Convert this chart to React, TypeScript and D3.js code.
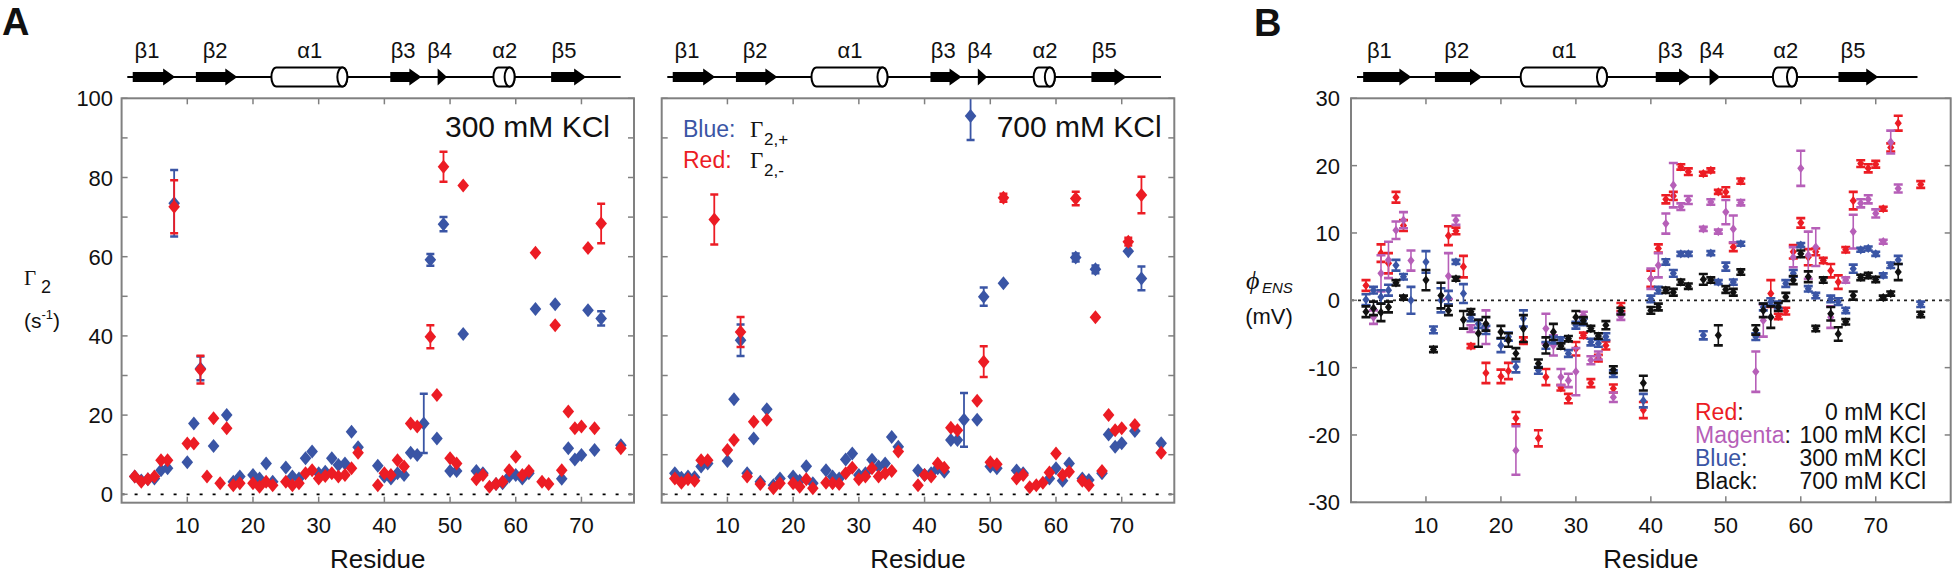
import React from 'react';
import * as d3 from 'd3';

type Pt = [number, number, number?];

// ---------- Panel A data: Gamma2 (s^-1) per residue [residue, value, error] ----------
const blue300: Pt[] = [
  [2,4.5],[3,3.5],[4,3.8],[5,4],[6,6.1],[7,6.6],[8,73.5,8.4],[10,8.1],[11,17.9],[12,31.8,3],
  [14,12.2],[16,20],[17,3.2],[18,4.5],[20,4.9],[21,4],[22,7.8],[23,3.2],[25,6.8],[26,4.5],
  [27,4],[28,9.1],[29,10.8],[30,5.3],[31,5.7],[32,9.1],[33,7.4],[34,7.8],[35,15.8],[36,11.9],
  [39,7.2],[40,4.5],[41,4],[42,5.3],[43,4.9],[44,10.5],[45,9.9],[46,17.9,7.5],[47,59.2,1.5],
  [48,14.1],[49,68.2,1.8],[50,5.9],[51,5.9],[52,40.5],[54,5.9],[55,5.3],[57,2.6],[58,2.8],
  [59,4.5],[60,4.9],[61,4],[62,5.3],[63,46.8],[66,48],[67,3.9],[68,11.6],[69,8.8],[70,9.9],
  [71,46.5],[72,11.2],[73,44.4,1.8],[76,12.4]
];
const red300: Pt[] = [
  [2,4.5],[3,3.2],[4,3.8],[5,4.5],[6,8.6],[7,8.6],[8,72.6,6.7],[10,12.8],[11,12.8],[12,31.5,3.5],
  [13,4.5],[14,19.2],[15,2.8],[16,16.7],[17,2.3],[18,2.8],[20,2.8],[21,1.9],[22,3.2],[23,2.3],
  [25,3.2],[26,2.3],[27,2.8],[28,5.3],[29,6.1],[30,4],[31,4.6],[32,5.3],[33,4.5],[34,4.9],
  [35,6.6],[36,10.5],[39,2.3],[40,5.3],[41,4.9],[42,8.6],[43,7],[44,17.9],[45,17.1],[47,39.8,2.9],
  [48,25.1],[49,82.7,3.8],[50,9.1],[51,7.8],[52,78],[54,3.8],[55,4.9],[56,1.9],[57,2.6],[58,3.2],
  [59,6.1],[60,9.5],[61,4.9],[62,5.9],[63,61],[64,3.2],[65,2.6],[66,42.7],[67,6.1],[68,20.9],
  [69,16.7],[70,17.1],[71,62.2],[72,16.7],[73,68.4,5],[76,11.6]
];
const blue700: Pt[] = [
  [2,5.3],[3,4.2],[4,4.5],[5,4.3],[6,7],[7,7.8],[10,8.4],[11,24],[12,38.9,4],[13,5.3],
  [14,14.1],[15,3.2],[16,21.5],[17,2.3],[18,4],[20,4.5],[21,3.4],[22,7.1],[23,2.8],[25,6.1],
  [26,4.5],[27,4],[28,8.8],[29,10.3],[30,4.9],[31,5.3],[32,8.7],[33,7],[34,7.8],[35,14.5],
  [36,12],[39,6],[40,4.9],[41,5.3],[42,6.6],[43,5.7],[44,13.7],[45,13.7],[46,18.8,6.8],
  [47,95.5,6],[48,18.8],[49,49.9,2.3],[50,7],[51,6.6],[52,53.3],[54,6],[55,5.3],[59,4],
  [60,6.6],[61,3.4],[62,7.8],[63,59.8,1],[64,4],[65,3.6],[66,56.8,1],[67,5.3],[68,15.1],
  [69,12],[70,12.9],[71,61.4],[72,16],[73,54.5,3],[76,12.9]
];
const red700: Pt[] = [
  [2,4],[3,2.9],[4,3.8],[5,3.4],[6,8.6],[7,8.6],[8,69.4,6.3],[10,11.2],[11,13.7],[12,41,3.8],
  [13,4.5],[14,18.3],[15,2.6],[16,18.8],[17,1.5],[18,2.8],[20,2.8],[21,1.9],[22,3.8],[23,1.5],
  [25,2.9],[26,2.8],[27,2.6],[28,5.3],[29,6.7],[30,3.8],[31,4.5],[32,6.6],[33,4.5],[34,5.3],
  [35,5.9],[36,10.8],[39,2.3],[40,4.9],[41,4.5],[42,7.8],[43,6.7],[44,16.8],[45,16.2],[48,23.6],
  [49,33.5,3.9],[50,8.1],[51,7.6],[52,74.9,1],[54,4],[55,4.9],[56,1.8],[57,2.3],[58,2.9],
  [59,5.5],[60,10.3],[61,4.9],[62,5.7],[63,74.7,1.7],[64,3.4],[65,2.3],[66,44.7],[67,5.9],
  [68,20],[69,16.2],[70,16.7],[71,63.8,1],[72,17.5],[73,75.6,4.6],[76,10.5]
];

// ---------- Panel B data: phi_ENS (mV) [residue, value, error] ----------
const phiRed0: Pt[] = [
  [2,2.2,0.8],[4,7,1.3],[5,5.5,1.5],[6,15.3,0.8],[7,11.1,0.8],[13,9.6,1.4],[14,10.3,0.5],
  [15,5,1.6],[16,-6.8,0.3],[18,-10.8,1.5],[20,-11.3,1],[21,-10.5,1.2],[22,-17.5,0.9],[23,-6,0.5],
  [25,-20.5,1.2],[26,-11.4,1.2],[28,-13,0.4],[29,-14.6,0.7],[30,-7.2,1],[31,-5.2,0.4],
  [32,-12.3,0.6],[33,-8.6,0.5],[34,-6.7,0.6],[35,-13.1,0.6],[36,-1,0.6],[39,-16.3,1.2],
  [40,3.2,1.2],[41,7.7,0.6],[42,15,0.6],[43,15.5,0.6],[44,19.8,0.4],[45,19.1,0.5],[47,18.8,0.3],
  [48,19.3,0.3],[49,16.1,0.3],[50,16.1,0.7],[51,7.9,0.6],[52,17.7,0.4],[56,1,2],[57,-2.4,0.4],
  [58,-1.6,0.5],[59,7.2,1],[60,11.5,0.7],[61,6.4,1.2],[62,7.2,0.5],[63,5.9,0.4],[64,4.4,1],
  [65,2.7,1],[66,7.5,0.4],[67,14.8,1.3],[68,20.3,0.5],[69,19.6,0.6],[70,20.2,0.5],[71,13.6,0.3],
  [72,22.7,0.6],[73,26.3,1.1],[76,17.2,0.5]
];
const phiMagenta100: Pt[] = [
  [3,-2.5,1],[4,4,2.7],[5,6,2.7],[6,10.4,1.3],[7,11.9,1.2],[8,5.9,1.5],[13,3.6,3.4],[14,11.9,0.7],
  [16,-4.2,0.5],[18,-4,2.5],[22,-22.3,3.6],[26,-4.2,2.2],[27,-6.7,1.5],[28,-11.4,1.2],[29,-11.9,1],
  [30,-10.6,3.5],[31,-2.2,0.5],[32,-8.9,0.6],[33,-8.2,0.6],[35,-14.4,0.7],[36,-2.4,0.5],
  [40,3.2,1.5],[41,5.2,1.8],[42,11.4,1.5],[43,17.1,3.3],[44,13.9,0.5],[45,14.9,0.6],[47,10.6,0.3],
  [48,14.6,0.4],[49,10.2,0.3],[50,13.1,1.8],[51,10.6,2],[52,14.5,0.4],[54,-10.6,3],[55,-3,2.4],
  [59,6.4,1.5],[60,19.6,2.6],[61,6.7,3.5],[62,7.9,2.8],[64,-2.5,1.6],[66,3,0.4],[67,10.2,2.5],
  [68,14.4,0.6],[69,15,0.6],[70,12.9,0.6],[71,8.7,0.3],[72,23.5,1.7],[73,16.6,0.6]
];
const phiBlue300: Pt[] = [
  [2,0.1,0.8],[3,1.5,0.5],[4,0.5,1],[5,1.5,0.8],[6,5.2,0.8],[7,3.5,0.4],[8,0,2],[10,5.7,1.6],
  [11,-4.4,0.5],[12,0,1.8],[13,0.4,1],[14,5.7,0.3],[15,1,1.4],[16,-2.6,0.5],[17,-3.5,0.6],
  [18,-4.4,0.6],[20,-6.7,1],[21,-5.4,0.6],[22,-9.9,0.8],[23,-2.7,1.2],[25,-10.4,0.5],[26,-6.7,0.5],
  [27,-5.9,0.5],[28,-5.9,0.4],[29,-7.9,0.5],[30,-3.7,0.5],[31,-3.2,0.5],[32,-6.2,0.5],[33,-6.4,0.5],
  [34,-5.4,0.5],[35,-10.9,0.5],[39,-14.9,1],[40,0.2,0.5],[41,1.5,0.5],[42,5.7,0.4],[43,4,0.5],
  [44,6.9,0.3],[45,6.9,0.3],[47,-5.2,0.6],[48,7,0.3],[49,2.7,0.3],[50,5,0.6],[51,2.7,0.4],
  [52,8.4,0.3],[54,-5.4,0.5],[55,-1,0.5],[56,-0.2,0.5],[57,-0.7,0.5],[58,2.5,0.5],[59,4,0.5],
  [60,8.2,0.3],[61,1.7,0.4],[62,0.7,0.4],[64,0.2,0.5],[65,-0.2,0.5],[66,-1.5,0.4],[67,4.7,0.6],
  [68,7.5,0.3],[69,7.7,0.3],[70,6.9,0.3],[71,3.7,0.3],[72,5.2,0.4],[73,6,0.6],[76,-0.6,0.4]
];
const phiBlack700: Pt[] = [
  [2,-1.7,0.8],[3,-1.2,1],[4,-1.8,1.3],[5,-1,0.8],[6,2.6,0.4],[7,0.4,0.3],[10,3,1.5],[11,-7.3,0.4],
  [12,0.7,1.9],[13,-1.5,0.7],[14,3.2,0.3],[15,-2.9,1.3],[16,-1.7,0.4],[17,-4.9,2],[18,-3.5,1],
  [20,-4.7,0.9],[21,-5.9,1],[22,-7.9,0.8],[23,-4.2,2],[25,-9.4,0.6],[26,-6.7,1.2],[27,-4.7,1.2],
  [28,-6.8,0.4],[29,-5.7,0.4],[30,-2.5,0.9],[31,-3,0.5],[32,-4.2,0.4],[33,-5.3,0.4],[34,-3.7,0.6],
  [35,-10.3,0.5],[36,-1.6,0.5],[39,-12.3,1.1],[40,-1.5,0.5],[41,-1,0.5],[42,1.5,0.4],[43,1.2,0.5],
  [44,2.7,0.4],[45,2.1,0.4],[47,3.1,0.8],[48,3,0.4],[49,-5.2,1.5],[50,1.6,0.5],[51,1.2,0.5],
  [52,4.2,0.4],[54,-4.4,0.7],[55,-1.5,1],[56,-2.5,1.6],[57,-1,0.6],[58,0.5,0.6],[59,3,0.6],
  [60,6.9,0.5],[61,3.5,0.8],[62,-4.2,0.4],[63,3,0.4],[64,-2,1],[65,-5,1],[66,-3.2,0.4],[67,0.7,0.6],
  [68,3.4,0.4],[69,3.7,0.4],[70,3.1,0.4],[71,0.4,0.3],[72,1,0.3],[73,4.2,1.2],[76,-2.1,0.4]
];

// ---------- Axis ticks ----------
const residueTicks = [10, 20, 30, 40, 50, 60, 70];
const gammaLabelTicks = [0, 20, 40, 60, 80, 100];
const gammaTickMarks = [0, 10, 20, 30, 40, 50, 60, 70, 80, 90, 100];
const phiTicks = [-30, -20, -10, 0, 10, 20, 30];

// ---------- Secondary structure (fractions along the schematic bar) ----------
const ssLabels = ['β1', 'β2', 'α1', 'β3', 'β4', 'α2', 'β5'];
const ssKinds = ['strand', 'strand', 'helix', 'strand', 'strand', 'helix', 'strand'];
const ssStart = [0.011, 0.139, 0.292, 0.533, 0.629, 0.742, 0.859];
const ssEnd = [0.097, 0.223, 0.446, 0.596, 0.648, 0.785, 0.93];
const ssLabelAt = [0.04, 0.178, 0.37, 0.559, 0.633, 0.765, 0.885];

const legendBNames = ['Red', 'Magenta', 'Blue', 'Black'];
const legendBValues = ['0 mM KCl', '100 mM KCl', '300 mM KCl', '700 mM KCl'];

const RED = '#ec1c24';
const BLUE = '#3a55a5';
const MAGENTA = '#b65fb8';
const BLACK = '#111111';
const FRAME = '#808080';
const FONT = "'Liberation Sans', Arial, Helvetica, sans-serif";
const SERIF = "'Liberation Serif', 'DejaVu Serif', serif";

function diamond(cx: number, cy: number, hw: number, hh: number) {
  return `M${cx},${cy - hh}L${cx + hw},${cy}L${cx},${cy + hh}L${cx - hw},${cy}Z`;
}

function SSBar({ x0, x1, y }: { x0: number; x1: number; y: number }) {
  const s = d3.scaleLinear().domain([0, 1]).range([x0, x1]);
  return (
    <g>
      <line x1={x0} x2={x1} y1={y} y2={y} stroke="#000" strokeWidth={2} />
      {ssKinds.map((k, i) => {
        const a = s(ssStart[i]);
        const b = s(ssEnd[i]);
        if (k === 'strand') {
          const bodyH = 5, headH = 8.5, head = 12;
          const pts = b - a <= head
            ? [[a, y - headH], [b, y], [a, y + headH]]
            : [[a, y - bodyH], [b - head, y - bodyH], [b - head, y - headH], [b, y], [b - head, y + headH], [b - head, y + bodyH], [a, y + bodyH]];
          return <polygon key={i} points={pts.map(p => p.join(',')).join(' ')} fill="#000" />;
        }
        const rx = 5, ry = 9.5;
        const d = `M${a + rx},${y - ry}L${b - rx},${y - ry}A${rx},${ry} 0 0 1 ${b - rx},${y + ry}L${a + rx},${y + ry}A${rx},${ry} 0 0 1 ${a + rx},${y - ry}Z`;
        return (
          <g key={i}>
            <path d={d} fill="#fff" stroke="#000" strokeWidth={2} />
            <ellipse cx={b - rx} cy={y} rx={rx} ry={ry} fill="#fff" stroke="#000" strokeWidth={2} />
          </g>
        );
      })}
      {ssLabels.map((l, i) => (
        <text key={l} x={s(ssLabelAt[i])} y={58} fontSize={22} fontFamily={FONT} textAnchor="middle" fill="#111">{l}</text>
      ))}
    </g>
  );
}

function Series({ data, x, y, color, hw, hh, capW, capSW, barSW }: any) {
  return (
    <g>
      {data.map((p: Pt, i: number) => {
        const cx = x(p[0]);
        const cy = y(p[1]);
        const e = p[2] || 0;
        return (
          <g key={i}>
            {e > 0 && (
              <g stroke={color}>
                <line x1={cx} x2={cx} y1={y(p[1] - e)} y2={y(p[1] + e)} strokeWidth={barSW} />
                <line x1={cx - capW} x2={cx + capW} y1={y(p[1] - e)} y2={y(p[1] - e)} strokeWidth={capSW} />
                <line x1={cx - capW} x2={cx + capW} y1={y(p[1] + e)} y2={y(p[1] + e)} strokeWidth={capSW} />
              </g>
            )}
            <path d={diamond(cx, cy, hw, hh)} fill={color} />
          </g>
        );
      })}
    </g>
  );
}

function GammaPanel({ x0, x1, blue, red, id, showY, children }: any) {
  const x = d3.scaleLinear().domain([0, 78]).range([x0, x1]);
  const y = d3.scaleLinear().domain([-2.12, 100]).range([502.7, 98.3]);
  const [yb, yt] = y.range();
  return (
    <g>
      <defs>
        <clipPath id={id}><rect x={x0} y={yt} width={x1 - x0} height={yb - yt} /></clipPath>
      </defs>
      <line x1={x0} x2={x1} y1={y(0)} y2={y(0)} stroke="#000" strokeWidth={1.8} strokeDasharray="3,10" />
      <g clipPath={`url(#${id})`}>
        <Series data={blue} x={x} y={y} color={BLUE} hw={5.8} hh={7} capW={4} capSW={2.5} barSW={1.8} />
        <Series data={red} x={x} y={y} color={RED} hw={5.8} hh={7} capW={4} capSW={2.5} barSW={1.8} />
      </g>
      <g stroke={FRAME} strokeWidth={1.5}>
        {residueTicks.map(t => (
          <g key={t}>
            <line x1={x(t)} x2={x(t)} y1={yb} y2={yb - 6} />
            <line x1={x(t)} x2={x(t)} y1={yt} y2={yt + 6} />
          </g>
        ))}
        {gammaTickMarks.map(t => (
          <g key={t}>
            <line x1={x0} x2={x0 + 6} y1={y(t)} y2={y(t)} />
            <line x1={x1} x2={x1 - 6} y1={y(t)} y2={y(t)} />
          </g>
        ))}
      </g>
      <rect x={x0} y={yt} width={x1 - x0} height={yb - yt} fill="none" stroke={FRAME} strokeWidth={2} />
      {residueTicks.map(t => (
        <text key={t} x={x(t)} y={533} fontSize={22} fontFamily={FONT} textAnchor="middle" fill="#111">{t}</text>
      ))}
      {showY && gammaLabelTicks.map(t => (
        <text key={t} x={x0 - 8.5} y={y(t) + 8} fontSize={22} fontFamily={FONT} textAnchor="end" fill="#111">{t}</text>
      ))}
      <text x={(x0 + x1) / 2} y={568} fontSize={26} fontFamily={FONT} textAnchor="middle" fill="#111">Residue</text>
      {children}
    </g>
  );
}

function PhiPanel() {
  const x0 = 1351, x1 = 1950.7;
  const x = d3.scaleLinear().domain([0, 80]).range([x0, x1]);
  const y = d3.scaleLinear().domain([-30, 30]).range([502.3, 98.3]);
  const [yb, yt] = y.range();
  const p = { x, y, hw: 3.6, hh: 4.6, capW: 4.5, capSW: 2.6, barSW: 1.6 };
  const colors = [RED, MAGENTA, BLUE, BLACK];
  return (
    <g>
      <defs>
        <clipPath id="clipB"><rect x={x0} y={yt} width={x1 - x0} height={yb - yt} /></clipPath>
      </defs>
      <line x1={x0} x2={x1} y1={y(0)} y2={y(0)} stroke="#222" strokeWidth={1.8} strokeDasharray="3,4" />
      <g clipPath="url(#clipB)">
        <Series data={phiRed0} color={RED} {...p} />
        <Series data={phiMagenta100} color={MAGENTA} {...p} />
        <Series data={phiBlue300} color={BLUE} {...p} />
        <Series data={phiBlack700} color={BLACK} {...p} />
      </g>
      <g stroke={FRAME} strokeWidth={1.5}>
        {residueTicks.map(t => (
          <g key={t}>
            <line x1={x(t)} x2={x(t)} y1={yb} y2={yb - 6} />
            <line x1={x(t)} x2={x(t)} y1={yt} y2={yt + 6} />
          </g>
        ))}
        {phiTicks.map(t => (
          <g key={t}>
            <line x1={x0} x2={x0 + 6} y1={y(t)} y2={y(t)} />
            <line x1={x1} x2={x1 - 6} y1={y(t)} y2={y(t)} />
          </g>
        ))}
      </g>
      <rect x={x0} y={yt} width={x1 - x0} height={yb - yt} fill="none" stroke={FRAME} strokeWidth={2} />
      {residueTicks.map(t => (
        <text key={t} x={x(t)} y={533} fontSize={22} fontFamily={FONT} textAnchor="middle" fill="#111">{t}</text>
      ))}
      {phiTicks.map(t => (
        <text key={t} x={x0 - 11} y={y(t) + 8} fontSize={22} fontFamily={FONT} textAnchor="end" fill="#111">{String(t)}</text>
      ))}
      <text x={(x0 + x1) / 2} y={568} fontSize={26} fontFamily={FONT} textAnchor="middle" fill="#111">Residue</text>
      {legendBNames.map((n, i) => (
        <g key={n}>
          <text x={1695} y={420 + i * 23.1} fontSize={23} fontFamily={FONT}
            fill={colors[i]}>{n}<tspan fill="#111">:</tspan></text>
          <text x={1926} y={420 + i * 23.1} fontSize={23} fontFamily={FONT} textAnchor="end" fill="#111">{legendBValues[i]}</text>
        </g>
      ))}
      <text x={1246} y={289} fontSize={26} fontFamily={SERIF} fontStyle="italic" fill="#111">ϕ</text>
      <text x={1262} y={293} fontSize={15} fontFamily={FONT} fontStyle="italic" fill="#111">ENS</text>
      <text x={1269} y={324} fontSize={22} fontFamily={FONT} textAnchor="middle" fill="#111">(mV)</text>
    </g>
  );
}

export default function App() {
  return (
    <svg width={1952} height={573} viewBox="0 0 1952 573"
      style={{ position: 'absolute', left: 0, top: 0, background: '#fff' }}>
      <rect x={0} y={0} width={1952} height={573} fill="#fff" />
      <text x={2} y={35} fontSize={38} fontWeight="bold" fontFamily={FONT} fill="#111">A</text>
      <text x={1254} y={36} fontSize={38} fontWeight="bold" fontFamily={FONT} fill="#111">B</text>

      <SSBar x0={127.3} x1={620.7} y={77} />
      <SSBar x0={667.3} x1={1161} y={77} />
      <SSBar x0={1357} x1={1917.5} y={77} />

      <GammaPanel x0={121.6} x1={634} blue={blue300} red={red300} id="clipA1" showY>
        <text x={610} y={137} fontSize={30} fontFamily={FONT} textAnchor="end" fill="#111">300 mM KCl</text>
      </GammaPanel>
      <GammaPanel x0={661.7} x1={1174.3} blue={blue700} red={red700} id="clipA2" showY={false}>
        <text x={1161.7} y={137} fontSize={30} fontFamily={FONT} textAnchor="end" fill="#111">700 mM KCl</text>
        <text x={683} y={137} fontSize={23} fontFamily={FONT} fill={BLUE}>Blue:</text>
        <text x={750} y={137} fontSize={23} fontFamily={SERIF} fill="#111">Γ</text>
        <text x={764} y={145} fontSize={17} fontFamily={FONT} fill="#111">2,+</text>
        <text x={683} y={168} fontSize={23} fontFamily={FONT} fill={RED}>Red:</text>
        <text x={750} y={168} fontSize={23} fontFamily={SERIF} fill="#111">Γ</text>
        <text x={764} y={176} fontSize={17} fontFamily={FONT} fill="#111">2,-</text>
      </GammaPanel>

      {/* Gamma2 axis label */}
      <text x={24} y={285} fontSize={21} fontFamily={SERIF} fill="#111">Γ</text>
      <text x={41} y={293} fontSize={18} fontFamily={FONT} fill="#111">2</text>
      <text x={42} y={328} fontSize={21} fontFamily={FONT} textAnchor="middle" fill="#111">(s<tspan fontSize={13} dy={-9}>-1</tspan><tspan dy={9}>)</tspan></text>

      <PhiPanel />
    </svg>
  );
}
